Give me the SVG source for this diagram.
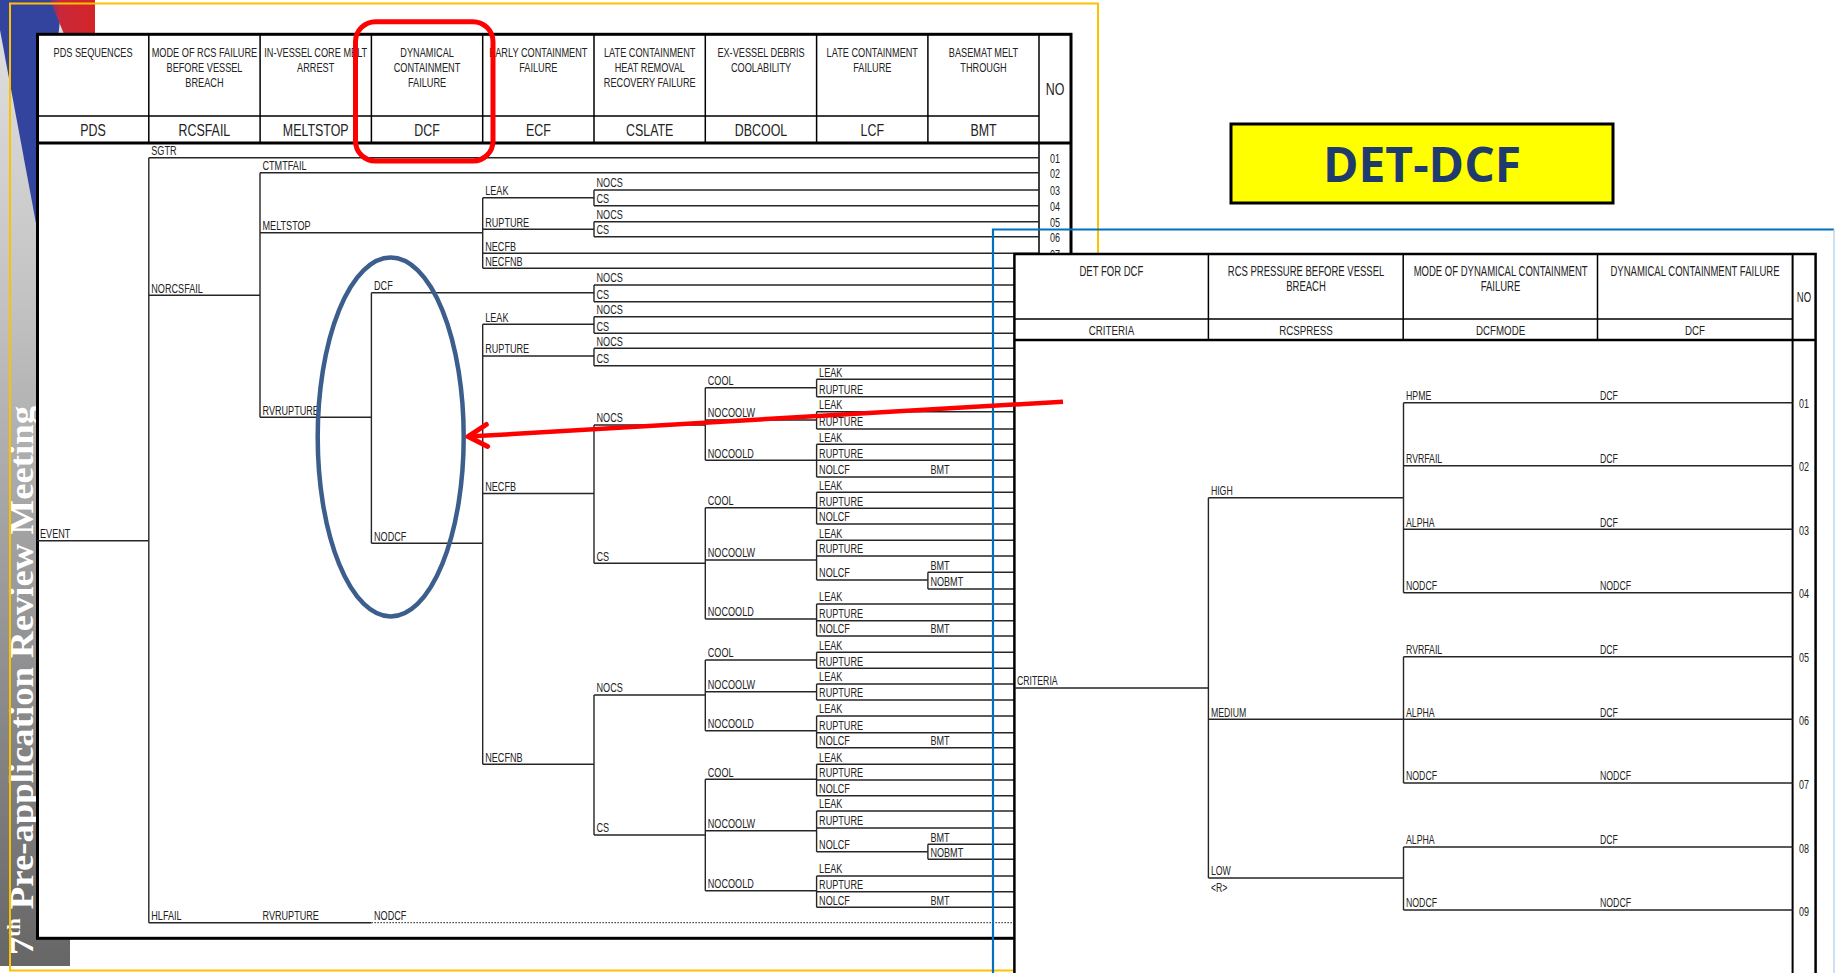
<svg xmlns="http://www.w3.org/2000/svg" width="1836" height="973" viewBox="0 0 1836 973">
<defs>
<linearGradient id="grayGrad" x1="0" y1="0" x2="0" y2="966" gradientUnits="userSpaceOnUse">
<stop offset="0" stop-color="#e2e2e2"/><stop offset="0.3" stop-color="#c4c4c4"/><stop offset="1" stop-color="#666"/>
</linearGradient>
<linearGradient id="redGrad" x1="48" y1="0" x2="95" y2="0" gradientUnits="userSpaceOnUse">
<stop offset="0" stop-color="#5a3a90"/><stop offset="0.25" stop-color="#c8283a"/><stop offset="1" stop-color="#d42428"/>
</linearGradient>
<marker id="chev" viewBox="-24 -14 28 28" markerWidth="28" markerHeight="28" refX="0" refY="0" orient="auto" markerUnits="userSpaceOnUse">
<path d="M-19,-11 L0,0 L-19,11" fill="none" stroke="#ff0000" stroke-width="5" stroke-linecap="round" stroke-linejoin="round"/>
</marker>
</defs>
<style>
.ln{stroke:#262626;stroke-width:1.4;fill:none}
.dot{stroke:#444;stroke-width:1.2;fill:none;stroke-dasharray:1.5 1.5}
.bd{stroke:#000;fill:none}
.lb{font-family:"Liberation Sans",Arial,sans-serif;font-size:13px;fill:#222;transform-box:fill-box;transform-origin:0 0;transform:scaleX(0.7)}
.dl{font-family:"Liberation Sans",Arial,sans-serif;font-size:12.5px;fill:#222;transform-box:fill-box;transform-origin:0 0;transform:scaleX(0.7)}
.hd{font-family:"Liberation Sans",Arial,sans-serif;font-size:13.5px;fill:#222;text-anchor:middle;transform-box:fill-box;transform-origin:50% 50%;transform:scaleX(0.68)}
.h2{font-family:"Liberation Sans",Arial,sans-serif;font-size:17px;fill:#222;text-anchor:middle;transform-box:fill-box;transform-origin:50% 50%;transform:scaleX(0.73)}
.d2{font-family:"Liberation Sans",Arial,sans-serif;font-size:13px;fill:#222;text-anchor:middle;transform-box:fill-box;transform-origin:50% 50%;transform:scaleX(0.75)}
.nm{font-family:"Liberation Sans",Arial,sans-serif;font-size:12.5px;fill:#222;text-anchor:middle;transform-box:fill-box;transform-origin:50% 50%;transform:scaleX(0.72)}
</style>
<rect x="0" y="0" width="1836" height="973" fill="#fff"/>

<g id="slide-decoration">
<rect x="0" y="0" width="70" height="966" fill="url(#grayGrad)"/>
<polygon points="0,0 62,0 38,234 0,30" fill="#33449e"/>
<polygon points="50,0 95,0 95,34 64,34" fill="url(#redGrad)"/>
<g transform="translate(33,955) rotate(-90)">
<text x="0" y="0" font-family="'Liberation Serif','DejaVu Serif',serif" font-weight="bold" font-size="34" fill="#fff" textLength="549" lengthAdjust="spacingAndGlyphs">7<tspan font-size="19" dy="-13">th</tspan><tspan dy="13"> Pre-application Review Meeting</tspan></text>
</g>
</g>

<g id="main-table">
<rect x="37.5" y="34.3" width="1033.5" height="904" fill="#fff"/>
<path class="bd" stroke-width="1.5" d="M148.8,34 V143 M260.1,34 V143 M371.4,34 V143 M482.7,34 V143 M594,34 V143 M705.3,34 V143 M816.6,34 V143 M927.9,34 V143 M37.5,116 H1039 M1039,34 V938"/>
<path class="bd" stroke-width="3" d="M37.5,143 H1071"/>
<rect class="bd" stroke-width="3" x="37.5" y="34.3" width="1033.5" height="904"/>
<g id="main-header-text">
<text class="hd" x="93" y="56.7">PDS SEQUENCES</text>
<text class="hd" x="204.4" y="56.7">MODE OF RCS FAILURE</text>
<text class="hd" x="204.4" y="71.7">BEFORE VESSEL</text>
<text class="hd" x="204.4" y="86.7">BREACH</text>
<text class="hd" x="315.7" y="56.7">IN-VESSEL CORE MELT</text>
<text class="hd" x="315.7" y="71.7">ARREST</text>
<text class="hd" x="427" y="56.7">DYNAMICAL</text>
<text class="hd" x="427" y="71.7">CONTAINMENT</text>
<text class="hd" x="427" y="86.7">FAILURE</text>
<text class="hd" x="538.3" y="56.7">EARLY CONTAINMENT</text>
<text class="hd" x="538.3" y="71.7">FAILURE</text>
<text class="hd" x="649.7" y="56.7">LATE CONTAINMENT</text>
<text class="hd" x="649.7" y="71.7">HEAT REMOVAL</text>
<text class="hd" x="649.7" y="86.7">RECOVERY FAILURE</text>
<text class="hd" x="761" y="56.7">EX-VESSEL DEBRIS</text>
<text class="hd" x="761" y="71.7">COOLABILITY</text>
<text class="hd" x="872.3" y="56.7">LATE CONTAINMENT</text>
<text class="hd" x="872.3" y="71.7">FAILURE</text>
<text class="hd" x="983.5" y="56.7">BASEMAT MELT</text>
<text class="hd" x="983.5" y="71.7">THROUGH</text>
<text class="h2" x="1055" y="95">NO</text>
<text class="h2" x="93" y="136">PDS</text>
<text class="h2" x="204.4" y="136">RCSFAIL</text>
<text class="h2" x="315.7" y="136">MELTSTOP</text>
<text class="h2" x="427" y="136">DCF</text>
<text class="h2" x="538.3" y="136">ECF</text>
<text class="h2" x="649.7" y="136">CSLATE</text>
<text class="h2" x="761" y="136">DBCOOL</text>
<text class="h2" x="872.3" y="136">LCF</text>
<text class="h2" x="983.5" y="136">BMT</text>
</g>
<g id="main-numbers">
<text class="nm" x="1055" y="163.2">01</text>
<text class="nm" x="1055" y="178.2">02</text>
<text class="nm" x="1055" y="195.5">03</text>
<text class="nm" x="1055" y="211.2">04</text>
<text class="nm" x="1055" y="227.2">05</text>
<text class="nm" x="1055" y="242.2">06</text>
<text class="nm" x="1055" y="258.8">07</text>
</g>
</g>

<g id="main-connectors">
<path class="ln" d="M148.8,157.7 V922.7 M260,172.7 V417.3 M371.4,292.7 V543.3 M482.7,197.7 V268.3 M482.7,324.3 V764.3
M594,190 V205.7 M594,221.7 V236.7 M594,285 V301.7 M594,316.7 V333.3 M594,348.3 V365.7 M594,425 V563.3 M594,695 V835
M705.3,387.7 V460.3 M705.3,507.7 V619 M705.3,660 V730.7 M705.3,779.3 V890.7
M816.6,379.3 V396.7 M816.6,411.7 V429 M816.6,444.3 V477 M816.6,492.3 V524 M816.6,540.3 V580 M816.6,604 V636 M816.6,652.3 V668.3 M816.6,684 V700 M816.6,716 V747.7 M816.6,764.3 V795.7 M816.6,811 V851.7 M816.6,876 V907.3
M927.9,572.3 V589 M927.9,844.3 V859.3
M37.5,540.7 H148.8 M148.8,295.3 H260 M148.8,922.7 H371.4 M260,232.7 H482.7 M260,417.3 H371.4 M371.4,292.7 H594 M371.4,543.3 H482.7
M482.7,197.7 H594 M482.7,229.3 H594 M482.7,324.3 H594 M482.7,356 H594 M482.7,493.5 H594 M482.7,764.3 H594
M594,425 H705.3 M594,563.3 H705.3 M594,695 H705.3 M594,835 H705.3
M705.3,387.7 H816.6 M705.3,420 H816.6 M705.3,460.3 H816.6 M705.3,507.7 H816.6 M705.3,560 H816.6 M705.3,619 H816.6 M705.3,660 H816.6 M705.3,691.7 H816.6 M705.3,730.7 H816.6 M705.3,779.3 H816.6 M705.3,830.7 H816.6 M705.3,890.7 H816.6
M816.6,580 H927.9 M816.6,851.7 H927.9
M148.8,157.7 H1039 M260,172.7 H1039 M482.7,253.3 H1039 M482.7,268.3 H1039
M594,190 H1039 M594,205.7 H1039 M594,221.7 H1039 M594,236.7 H1039 M594,285 H1039 M594,301.7 H1039 M594,316.7 H1039 M594,333.3 H1039 M594,348.3 H1039 M594,365.7 H1039
M816.6,379.3 H1039 M816.6,396.7 H1039 M816.6,411.7 H1039 M816.6,429 H1039 M816.6,444.3 H1039 M816.6,460.3 H1039 M816.6,477 H1039 M816.6,492.3 H1039 M816.6,508.3 H1039 M816.6,524 H1039 M816.6,540.3 H1039 M816.6,556 H1039 M816.6,604 H1039 M816.6,620.7 H1039 M816.6,636 H1039
M816.6,652.3 H1039 M816.6,668.3 H1039 M816.6,684 H1039 M816.6,700 H1039 M816.6,716 H1039 M816.6,732.7 H1039 M816.6,747.7 H1039 M816.6,764.3 H1039 M816.6,780 H1039 M816.6,795.7 H1039 M816.6,811 H1039 M816.6,828 H1039 M816.6,876 H1039 M816.6,891.7 H1039 M816.6,907.3 H1039
M927.9,572.3 H1039 M927.9,589 H1039 M927.9,844.3 H1039 M927.9,859.3 H1039"/>
<path class="dot" d="M371.4,922.7 H1039"/>
</g>

<g id="main-labels">
<text class="lb" x="40" y="538.2">EVENT</text>
<text class="lb" x="151.3" y="155.2">SGTR</text>
<text class="lb" x="151.3" y="292.8">NORCSFAIL</text>
<text class="lb" x="151.3" y="920.2">HLFAIL</text>
<text class="lb" x="262.5" y="170.2">CTMTFAIL</text>
<text class="lb" x="262.5" y="230.2">MELTSTOP</text>
<text class="lb" x="262.5" y="414.8">RVRUPTURE</text>
<text class="lb" x="262.5" y="920.2">RVRUPTURE</text>
<text class="lb" x="374" y="290.2">DCF</text>
<text class="lb" x="374" y="540.8">NODCF</text>
<text class="lb" x="374" y="920.2">NODCF</text>
<text class="lb" x="485.2" y="195.2">LEAK</text>
<text class="lb" x="485.2" y="226.8">RUPTURE</text>
<text class="lb" x="485.2" y="250.8">NECFB</text>
<text class="lb" x="485.2" y="265.8">NECFNB</text>
<text class="lb" x="485.2" y="321.8">LEAK</text>
<text class="lb" x="485.2" y="353.5">RUPTURE</text>
<text class="lb" x="485.2" y="491">NECFB</text>
<text class="lb" x="485.2" y="761.8">NECFNB</text>
<text class="lb" x="596.5" y="187.5">NOCS</text>
<text class="lb" x="596.5" y="203.2">CS</text>
<text class="lb" x="596.5" y="219.2">NOCS</text>
<text class="lb" x="596.5" y="234.2">CS</text>
<text class="lb" x="596.5" y="282.5">NOCS</text>
<text class="lb" x="596.5" y="299.2">CS</text>
<text class="lb" x="596.5" y="314.2">NOCS</text>
<text class="lb" x="596.5" y="330.8">CS</text>
<text class="lb" x="596.5" y="345.8">NOCS</text>
<text class="lb" x="596.5" y="363.2">CS</text>
<text class="lb" x="596.5" y="422.5">NOCS</text>
<text class="lb" x="596.5" y="560.8">CS</text>
<text class="lb" x="596.5" y="692.5">NOCS</text>
<text class="lb" x="596.5" y="832.5">CS</text>
<text class="lb" x="707.8" y="385.2">COOL</text>
<text class="lb" x="707.8" y="417.5">NOCOOLW</text>
<text class="lb" x="707.8" y="457.8">NOCOOLD</text>
<text class="lb" x="707.8" y="505.2">COOL</text>
<text class="lb" x="707.8" y="557.5">NOCOOLW</text>
<text class="lb" x="707.8" y="616.5">NOCOOLD</text>
<text class="lb" x="707.8" y="657.5">COOL</text>
<text class="lb" x="707.8" y="689.2">NOCOOLW</text>
<text class="lb" x="707.8" y="728.2">NOCOOLD</text>
<text class="lb" x="707.8" y="776.8">COOL</text>
<text class="lb" x="707.8" y="828.2">NOCOOLW</text>
<text class="lb" x="707.8" y="888.2">NOCOOLD</text>
<text class="lb" x="819.1" y="376.8">LEAK</text>
<text class="lb" x="819.1" y="394.2">RUPTURE</text>
<text class="lb" x="819.1" y="409.2">LEAK</text>
<text class="lb" x="819.1" y="426.5">RUPTURE</text>
<text class="lb" x="819.1" y="441.8">LEAK</text>
<text class="lb" x="819.1" y="457.8">RUPTURE</text>
<text class="lb" x="819.1" y="474.5">NOLCF</text>
<text class="lb" x="819.1" y="489.8">LEAK</text>
<text class="lb" x="819.1" y="505.8">RUPTURE</text>
<text class="lb" x="819.1" y="521.5">NOLCF</text>
<text class="lb" x="819.1" y="537.8">LEAK</text>
<text class="lb" x="819.1" y="553.5">RUPTURE</text>
<text class="lb" x="819.1" y="577.5">NOLCF</text>
<text class="lb" x="819.1" y="601.5">LEAK</text>
<text class="lb" x="819.1" y="618.2">RUPTURE</text>
<text class="lb" x="819.1" y="633.5">NOLCF</text>
<text class="lb" x="819.1" y="649.8">LEAK</text>
<text class="lb" x="819.1" y="665.8">RUPTURE</text>
<text class="lb" x="819.1" y="681.5">LEAK</text>
<text class="lb" x="819.1" y="697.5">RUPTURE</text>
<text class="lb" x="819.1" y="713.5">LEAK</text>
<text class="lb" x="819.1" y="730.2">RUPTURE</text>
<text class="lb" x="819.1" y="745.2">NOLCF</text>
<text class="lb" x="819.1" y="761.8">LEAK</text>
<text class="lb" x="819.1" y="777.5">RUPTURE</text>
<text class="lb" x="819.1" y="793.2">NOLCF</text>
<text class="lb" x="819.1" y="808.5">LEAK</text>
<text class="lb" x="819.1" y="825.5">RUPTURE</text>
<text class="lb" x="819.1" y="849.2">NOLCF</text>
<text class="lb" x="819.1" y="873.5">LEAK</text>
<text class="lb" x="819.1" y="889.2">RUPTURE</text>
<text class="lb" x="819.1" y="904.8">NOLCF</text>
<text class="lb" x="930.4" y="474.5">BMT</text>
<text class="lb" x="930.4" y="569.8">BMT</text>
<text class="lb" x="930.4" y="586.5">NOBMT</text>
<text class="lb" x="930.4" y="633.5">BMT</text>
<text class="lb" x="930.4" y="745.2">BMT</text>
<text class="lb" x="930.4" y="841.8">BMT</text>
<text class="lb" x="930.4" y="856.8">NOBMT</text>
<text class="lb" x="930.4" y="904.8">BMT</text>
</g>

<rect id="yellow-frame" x="10" y="3.5" width="1088" height="967" fill="none" stroke="#ffc000" stroke-width="2"/>
<rect id="red-highlight" x="355.5" y="21.7" width="137.5" height="139.3" rx="20" fill="none" stroke="#ff0000" stroke-width="5"/>
<ellipse id="blue-ellipse" cx="390.7" cy="437" rx="73" ry="179.5" fill="none" stroke="#3b5e8c" stroke-width="4.5"/>

<g id="title-box">
<rect x="1231" y="124" width="382" height="79" fill="#ffff00" stroke="#000" stroke-width="3"/>
<text x="1422" y="182" text-anchor="middle" font-family="'Open Sans','Liberation Sans',sans-serif" font-weight="bold" font-size="48" fill="#1f3b6e">DET-DCF</text>
</g>

<g id="det-table">
<rect x="1014.4" y="254" width="822" height="720" fill="#fff"/>
<path class="bd" stroke-width="1.5" d="M1014.4,319 H1792.6 M1208.4,254 V340 M1403.2,254 V340 M1597.5,254 V340"/>
<path class="bd" stroke-width="2" d="M1792.6,254 V975"/>
<path class="bd" stroke-width="2.5" d="M1014.4,975 V254 H1815.6 V975 M1014.4,340 H1815.6"/>
<g id="det-header-text">
<text class="hd" style="font-size:14px" x="1111.4" y="275.7">DET FOR DCF</text>
<text class="hd" style="font-size:14px" x="1306" y="275.7">RCS PRESSURE BEFORE VESSEL</text>
<text class="hd" style="font-size:14px" x="1306" y="290.7">BREACH</text>
<text class="hd" style="font-size:14px" x="1500.5" y="275.7">MODE OF DYNAMICAL CONTAINMENT</text>
<text class="hd" style="font-size:14px" x="1500.5" y="290.7">FAILURE</text>
<text class="hd" style="font-size:14px" x="1695" y="275.7">DYNAMICAL CONTAINMENT FAILURE</text>
<text class="hd" style="font-size:14px" x="1804" y="302">NO</text>
<text class="d2" x="1111.4" y="335">CRITERIA</text>
<text class="d2" x="1306" y="335">RCSPRESS</text>
<text class="d2" x="1500.5" y="335">DCFMODE</text>
<text class="d2" x="1695" y="335">DCF</text>
</g>
<g id="det-connectors">
<path class="ln" d="M1014.4,688 H1208.4 M1208.4,497.7 V878 M1208.4,497.7 H1403.5 M1208.4,719.3 H1403.5 M1208.4,878 H1403.5
M1403.5,402.7 V592.7 M1403.5,656.7 V783 M1403.5,847 V910
M1403.5,402.7 H1792.6 M1403.5,465.7 H1792.6 M1403.5,529.3 H1792.6 M1403.5,592.7 H1792.6 M1403.5,656.7 H1792.6 M1403.5,719.3 H1792.6 M1403.5,783 H1792.6 M1403.5,847 H1792.6 M1403.5,910 H1792.6"/>
</g>
<g id="det-labels">
<text class="dl" x="1016.9" y="685.5">CRITERIA</text>
<text class="dl" x="1210.9" y="495.2">HIGH</text>
<text class="dl" x="1210.9" y="716.8">MEDIUM</text>
<text class="dl" x="1210.9" y="875.5">LOW</text>
<text class="dl" x="1210.9" y="892.5">&lt;R&gt;</text>
<text class="dl" x="1406" y="400.2">HPME</text>
<text class="dl" x="1406" y="463.2">RVRFAIL</text>
<text class="dl" x="1406" y="526.8">ALPHA</text>
<text class="dl" x="1406" y="590.2">NODCF</text>
<text class="dl" x="1406" y="654.2">RVRFAIL</text>
<text class="dl" x="1406" y="716.8">ALPHA</text>
<text class="dl" x="1406" y="780.5">NODCF</text>
<text class="dl" x="1406" y="844.5">ALPHA</text>
<text class="dl" x="1406" y="907.5">NODCF</text>
<text class="dl" x="1600" y="400.2">DCF</text>
<text class="dl" x="1600" y="463.2">DCF</text>
<text class="dl" x="1600" y="526.8">DCF</text>
<text class="dl" x="1600" y="590.2">NODCF</text>
<text class="dl" x="1600" y="654.2">DCF</text>
<text class="dl" x="1600" y="716.8">DCF</text>
<text class="dl" x="1600" y="780.5">NODCF</text>
<text class="dl" x="1600" y="844.5">DCF</text>
<text class="dl" x="1600" y="907.5">NODCF</text>
<text class="nm" x="1804" y="408.3">01</text>
<text class="nm" x="1804" y="471.3">02</text>
<text class="nm" x="1804" y="534.9">03</text>
<text class="nm" x="1804" y="598.3">04</text>
<text class="nm" x="1804" y="662.3">05</text>
<text class="nm" x="1804" y="724.9">06</text>
<text class="nm" x="1804" y="788.6">07</text>
<text class="nm" x="1804" y="852.6">08</text>
<text class="nm" x="1804" y="915.6">09</text>
</g>
</g>

<g id="blue-frame">
<path d="M993,975 V229.5 H1834" fill="none" stroke="#0070c0" stroke-width="2.2"/>
<path d="M1834,229.5 V975" fill="none" stroke="#bdd7ee" stroke-width="1.5"/>
</g>

<g id="arrow-connector">
<path d="M1063,401.7 L468,436.6" fill="none" stroke="#ff0000" stroke-width="4.5" marker-end="url(#chev)"/>
</g>
</svg>
